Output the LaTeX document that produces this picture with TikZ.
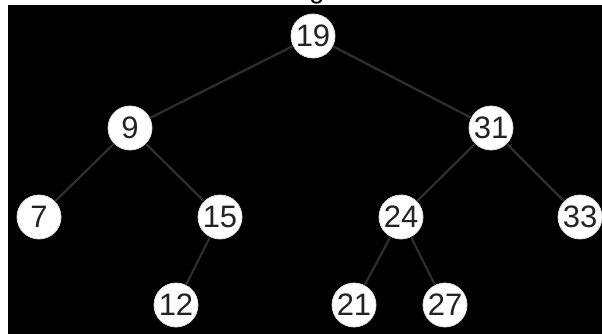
\documentclass[tikz,border=0pt]{standalone}
\usepackage{fontspec}
\setmainfont{Liberation Sans}
\definecolor{edgecol}{RGB}{52,46,42}
\definecolor{keycol}{RGB}{35,35,35}
\begin{document}
\begin{tikzpicture}[x=1pt, y=-1pt,
        key/.style={circle, fill=white, draw=gray!25, line width=0.8pt,
            minimum size=44pt, inner sep=0pt, text=keycol,
            font=\fontsize{31}{31}\selectfont},
        link/.style={draw=edgecol, line width=2.2pt}]
    % page: white margins, black panel
    \useasboundingbox (0,0) rectangle (602,334);
    \fill[white] (0,0) rectangle (602,334);
    \fill[black] (8,5) rectangle (602,334);

    % cut-off caption letter at the top
    \begin{scope}
        \clip (0,0) rectangle (602,5);
        \node[anchor=base, inner sep=0pt, font=\fontsize{27}{27}\selectfont] (cap) at (317,-1.7) {g};
    \end{scope}

    % keys
    \node[key] (k19) at (313,36) {19};
    \node[key] (k9)  at (130,128) {9};
    \node[key] (k31) at (491,128) {31};
    \node[key] (k7)  at (39,217) {7};
    \node[key] (k15) at (220,217) {15};
    \node[key] (k24) at (401,217) {24};
    \node[key] (k33) at (580,217) {33};
    \node[key] (k12) at (176,305) {12};
    \node[key] (k21) at (354,305) {21};
    \node[key] (k27) at (445,305) {27};

    % links between keys
    \foreach \a/\b in {k19/k9, k19/k31, k9/k7, k9/k15, k15/k12,
                       k31/k24, k31/k33, k24/k21, k24/k27} {
        \draw[link] (\a) -- (\b);
    }
\end{tikzpicture}
\end{document}
